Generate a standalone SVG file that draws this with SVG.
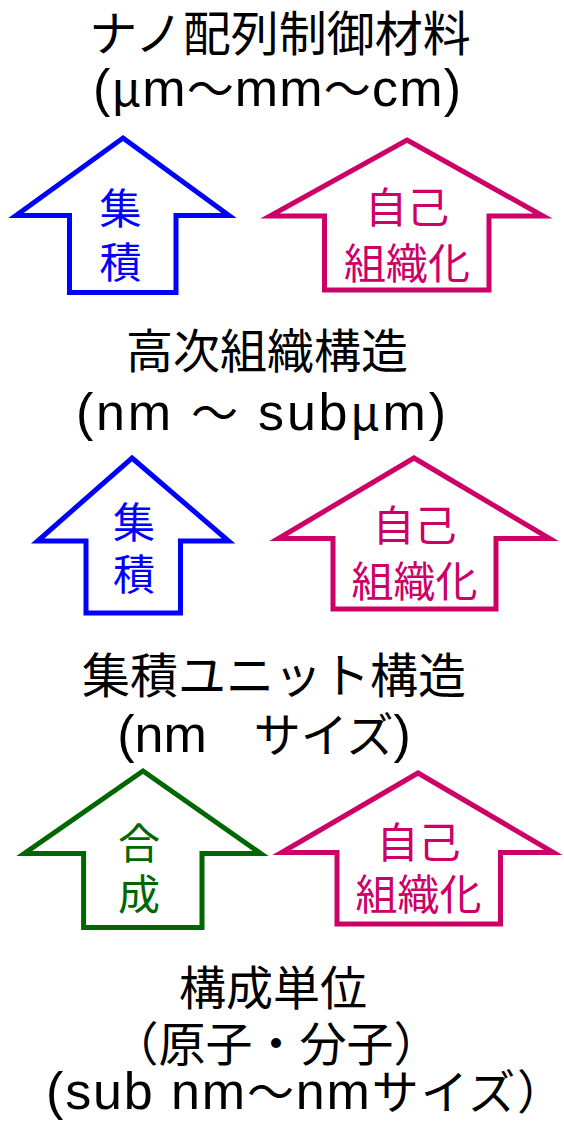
<svg xmlns="http://www.w3.org/2000/svg" width="564" height="1123" viewBox="0 0 564 1123">
<style>
.t{font-family:'Noto Sans CJK JP',sans-serif;font-size:47px;fill:#000;text-anchor:middle}
.m{font-family:'Liberation Sans','Noto Sans CJK JP',sans-serif;font-size:52px;fill:#000;text-anchor:middle}
.c{font-family:'Noto Sans CJK JP',sans-serif;font-size:47px}
.lab{font-family:'Noto Sans CJK JP',sans-serif;font-size:42px;text-anchor:middle}
.arrow{fill:#fff;stroke-width:5;stroke-linejoin:miter;stroke-miterlimit:10}
.blue{stroke:#0000ff}.bluet{fill:#0000ff}
.pink{stroke:#cc0066}.pinkt{fill:#cc0066}
.green{stroke:#006600}.greent{fill:#006600}
</style>
<rect width="564" height="1123" fill="#fff"/>
<g id="level-top">
<text class="t" x="280" y="51" style="font-size:48px">ナノ配列制御材料</text>
<text class="m" x="277" y="106" textLength="368">(<tspan class="c">μ</tspan>m<tspan class="c">〜</tspan>mm<tspan class="c">〜</tspan>cm)</text>
</g>
<g id="arrow-integration-1">
<path class="arrow blue" d="M123,138 L229,215.5 L176,215.5 L176,292.5 L69.5,292.5 L69.5,215.5 L16,215.5 Z"/>
<text class="lab bluet"><tspan x="120.5" y="224">集</tspan><tspan x="120.5" y="278">積</tspan></text>
</g>
<g id="arrow-selforg-1">
<path class="arrow pink" d="M407,140 L543,216 L489,216 L489,290 L324.5,290 L324.5,216 L270,216 Z"/>
<text class="lab pinkt"><tspan x="407" y="223">自己</tspan><tspan x="407" y="279">組織化</tspan></text>
</g>
<g id="level-higher">
<text class="t" x="267" y="368">高次組織構造</text>
<text class="m" x="261" y="430" textLength="370">(nm <tspan class="c">〜</tspan> sub<tspan class="c">μ</tspan>m)</text>
</g>
<g id="arrow-integration-2">
<path class="arrow blue" d="M132,458 L228.6,541 L180.5,541 L180.5,613 L86,613 L86,541 L37.6,541 Z"/>
<text class="lab bluet"><tspan x="134" y="538">集</tspan><tspan x="134" y="590">積</tspan></text>
</g>
<g id="arrow-selforg-2">
<path class="arrow pink" d="M414,458 L549.6,538.5 L496,538.5 L496,609 L333,609 L333,538.5 L278.4,538.5 Z"/>
<text class="lab pinkt"><tspan x="414.5" y="541">自己</tspan><tspan x="414.5" y="597">組織化</tspan></text>
</g>
<g id="level-unit">
<text class="t" x="274" y="693" style="font-size:48px">集積ユニット構造</text>
<text class="m" x="264" y="752">(nm<tspan class="c">　サイズ</tspan>)</text>
</g>
<g id="arrow-synthesis">
<path class="arrow green" d="M143,771 L260.7,853.5 L202,853.5 L202,927.5 L83.6,927.5 L83.6,853.5 L24.3,853.5 Z"/>
<text class="lab greent"><tspan x="139" y="859">合</tspan><tspan x="139" y="910">成</tspan></text>
</g>
<g id="arrow-selforg-3">
<path class="arrow pink" d="M418,773 L553.4,852.5 L500.5,852.5 L500.5,924 L337,924 L337,852.5 L281.6,852.5 Z"/>
<text class="lab pinkt"><tspan x="418.5" y="858">自己</tspan><tspan x="418.5" y="910">組織化</tspan></text>
</g>
<g id="level-base">
<text class="t" x="273" y="1005">構成単位</text>
<text class="t" x="276" y="1061">（原子・分子）</text>
<text class="m" x="46" y="1109" style="text-anchor:start" textLength="518">(sub nm<tspan class="c">〜</tspan>nm<tspan class="c">サイズ）</tspan></text>
</g>
<g id="connectors"></g>
</svg>
